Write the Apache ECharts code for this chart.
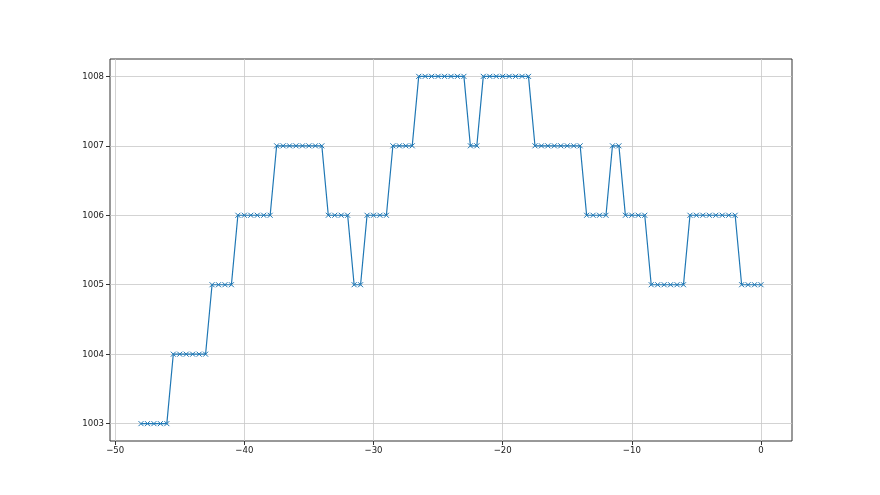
<!DOCTYPE html>
<html><head><meta charset="utf-8">
<script src="https://cdn.jsdelivr.net/npm/echarts@6/dist/echarts.min.js"></script>
<style>html,body{margin:0;padding:0;background:#fff}#c{width:880px;height:495px}</style>
</head><body><div id="c"></div>
<script>
const xValues = [
  -48,-47.5,-47,-46.5,-46,
  -45.5,-45,-44.5,-44,-43.5,-43,
  -42.5,-42,-41.5,-41,
  -40.5,-40,-39.5,-39,-38.5,-38,
  -37.5,-37,-36.5,-36,-35.5,-35,-34.5,-34,
  -33.5,-33,-32.5,-32,
  -31.5,-31,
  -30.5,-30,-29.5,-29,
  -28.5,-28,-27.5,-27,
  -26.5,-26,-25.5,-25,-24.5,-24,-23.5,-23,
  -22.5,-22,
  -21.5,-21,-20.5,-20,-19.5,-19,-18.5,-18,
  -17.5,-17,-16.5,-16,-15.5,-15,-14.5,-14,
  -13.5,-13,-12.5,-12,
  -11.5,-11,
  -10.5,-10,-9.5,-9,
  -8.5,-8,-7.5,-7,-6.5,-6,
  -5.5,-5,-4.5,-4,-3.5,-3,-2.5,-2,
  -1.5,-1,-0.5,0
];
const pressure = [
  1003,1003,1003,1003,1003,
  1004,1004,1004,1004,1004,1004,
  1005,1005,1005,1005,
  1006,1006,1006,1006,1006,1006,
  1007,1007,1007,1007,1007,1007,1007,1007,
  1006,1006,1006,1006,
  1005,1005,
  1006,1006,1006,1006,
  1007,1007,1007,1007,
  1008,1008,1008,1008,1008,1008,1008,1008,
  1007,1007,
  1008,1008,1008,1008,1008,1008,1008,1008,
  1007,1007,1007,1007,1007,1007,1007,1007,
  1006,1006,1006,1006,
  1007,1007,
  1006,1006,1006,1006,
  1005,1005,1005,1005,1005,1005,
  1006,1006,1006,1006,1006,1006,1006,1006,
  1005,1005,1005,1005
];
const xTicks = [-50,-40,-30,-20,-10,0];
const yTicks = [1003,1004,1005,1006,1007,1008];

const FONT = '"DejaVu Sans Condensed", "Liberation Sans Narrow", "DejaVu Sans", sans-serif';
const chart = echarts.init(document.getElementById('c'), null, {renderer:'canvas'});
const data = xValues.map((x,i)=>[x, pressure[i]]);
chart.setOption({
  animation:false,
  backgroundColor:'#fff',
  grid:{left:110, top:59, width:682, height:382, show:true, borderColor:'#333', borderWidth:1, backgroundColor:'transparent'},
  xAxis:{
    type:'value', min:-50.4, max:2.4,
    axisLine:{show:false, onZero:false},
    axisTick:{show:true, length:4, customValues:xTicks, lineStyle:{color:'#333', width:1}},
    axisLabel:{customValues:xTicks, fontFamily:FONT, fontSize:9.5, color:'#222', margin:5,
      formatter:v=>String(v).replace('-', '\u2212')},
    splitLine:{show:true, lineStyle:{color:'#c8c8c8', width:0.8}}
  },
  yAxis:{
    type:'value', min:1002.75, max:1008.25,
    axisLine:{show:false, onZero:false},
    axisTick:{show:true, length:4, customValues:yTicks, lineStyle:{color:'#333', width:1}},
    axisLabel:{customValues:yTicks, fontFamily:FONT, fontSize:9.5, color:'#222', margin:6,
      formatter:v=>String(v)},
    splitLine:{show:true, lineStyle:{color:'#c8c8c8', width:0.8}}
  },
  series:[{
    type:'line', data:data,
    symbol:'path://M0,0L10,10M10,0L0,10', symbolSize:5,
    showAllSymbol:true,
    lineStyle:{color:'#1f77b4', width:1.2},
    itemStyle:{color:'none', borderColor:'#1f77b4', borderWidth:1},
    emphasis:{disabled:true}
  }]
});
</script></body></html>
